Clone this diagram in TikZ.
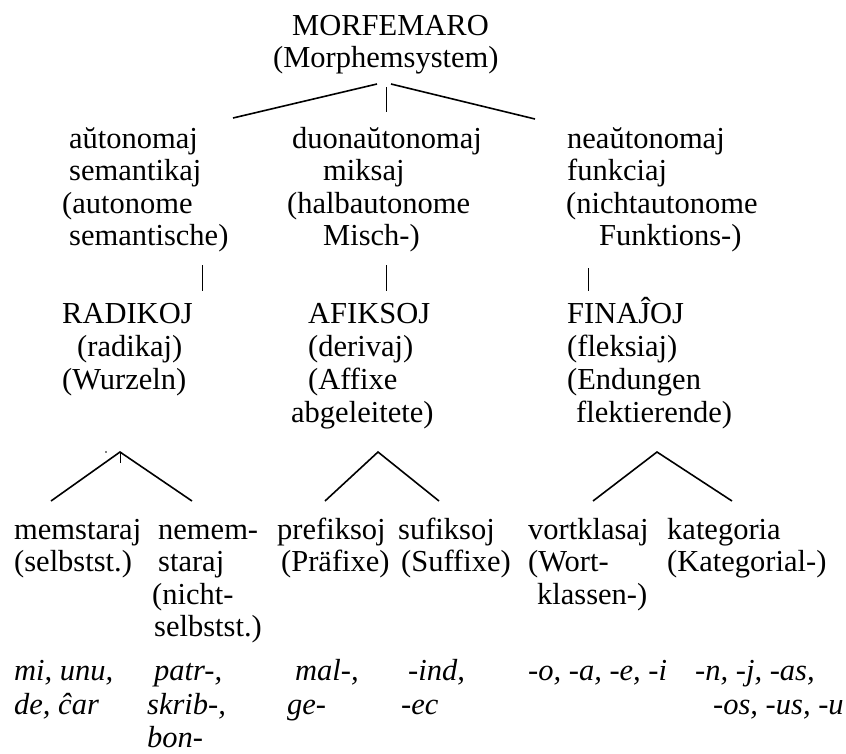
\documentclass[tikz,border=0pt]{standalone}
\usepackage{fontspec}
\setmainfont{Liberation Serif}
\begin{document}
\begin{tikzpicture}[x=1pt,y=-1pt]
\tikzset{
  lbl/.style={anchor=base west, inner sep=0pt, font=\fontsize{30.5}{33}\selectfont},
  ex/.style={anchor=base west, inner sep=0pt, font=\fontsize{30.5}{33}\selectfont\itshape},
  branch/.style={line width=1.6pt},
  bar/.style={line width=0.8pt},
}
\useasboundingbox (0,0) rectangle (846,753);

% root
\node[lbl] (root)  at (292,35) {MORFEMARO};
\node[lbl] (rootg) at (273,67) {(Morphemsystem)};

% second level
\node[lbl] (aut1) at (69,148) {aŭtonomaj};
\node[lbl] (aut2) at (69,180) {semantikaj};
\node[lbl] (aut3) at (62,213) {(autonome};
\node[lbl] (aut4) at (69,245) {semantische)};

\node[lbl] (duo1) at (292,148) {duonaŭtonomaj};
\node[lbl] (duo2) at (323,180) {miksaj};
\node[lbl] (duo3) at (287,213) {(halbautonome};
\node[lbl] (duo4) at (323,245) {Misch-)};

\node[lbl] (nea1) at (567,148) {neaŭtonomaj};
\node[lbl] (nea2) at (567,180) {funkciaj};
\node[lbl] (nea3) at (566,213) {(nichtautonome};
\node[lbl] (nea4) at (599,245) {Funktions-)};

% third level
\node[lbl] (rad1) at (62,323) {RADIKOJ};
\node[lbl] (rad2) at (77,356) {(radikaj)};
\node[lbl] (rad3) at (62,389) {(Wurzeln)};

\node[lbl] (afi1) at (308,323) {AFIKSOJ};
\node[lbl] (afi2) at (308,356) {(derivaj)};
\node[lbl] (afi3) at (308,389) {(Affixe};
\node[lbl] (afi4) at (291,422) {abgeleitete)};

\node[lbl] (fin1) at (567,323) {FINAĴOJ};
\node[lbl] (fin2) at (567,356) {(fleksiaj)};
\node[lbl] (fin3) at (567,389) {(Endungen};
\node[lbl] (fin4) at (576,422) {flektierende)};

% fourth level
\node[lbl] (mem1) at (14,539) {memstaraj};
\node[lbl] (mem2) at (14,571) {(selbstst.)};

\node[lbl] (nem1) at (158,539) {nemem-};
\node[lbl] (nem2) at (158,571) {staraj};
\node[lbl] (nem3) at (152,604) {(nicht-};
\node[lbl] (nem4) at (154,636) {selbstst.)};

\node[lbl] (pre1) at (277,539) {prefiksoj};
\node[lbl] (pre2) at (281,571) {(Präfixe)};

\node[lbl] (suf1) at (398,539) {sufiksoj};
\node[lbl] (suf2) at (401,571) {(Suffixe)};

\node[lbl] (vor1) at (528,539) {vortklasaj};
\node[lbl] (vor2) at (528,571) {(Wort-};
\node[lbl] (vor3) at (537,604) {klassen-)};

\node[lbl] (kat1) at (667,539) {kategoria};
\node[lbl] (kat2) at (667,571) {(Kategorial-)};

% examples
\node[ex] (exmem1) at (14,680) {mi, unu,};
\node[ex] (exmem2) at (14,714) {de, ĉar};
\node[ex] (exnem1) at (154,680) {patr-,};
\node[ex] (exnem2) at (147,714) {skrib-,};
\node[ex] (exnem3) at (147,747) {bon-};
\node[ex] (expre1) at (295,680) {mal-,};
\node[ex] (expre2) at (287,714) {ge-};
\node[ex] (exsuf1) at (408,680) {-ind,};
\node[ex] (exsuf2) at (401,714) {-ec};
\node[ex] (exvor1) at (528,680) {-o, -a, -e, -i};
\node[ex] (exkat1) at (695,680) {-n, -j, -as,};
\node[ex] (exkat2) at (713,714) {-os, -us, -u};

% branch points
\coordinate (rootL) at (377,84);
\coordinate (rootM) at (386,87);
\coordinate (rootR) at (391,84);
\coordinate (autTop) at (233,118);
\coordinate (duoTop) at (386,112);
\coordinate (neaTop) at (535,119);

\coordinate (autBar) at (202,265);
\coordinate (radBar) at (202,291);
\coordinate (duoBar) at (386,265);
\coordinate (afiBar) at (386,291);
\coordinate (neaBar) at (588,268);
\coordinate (finBar) at (588,291);

\coordinate (radApex) at (120,452);
\coordinate (radTick) at (120,463);
\coordinate (memFoot) at (51,501);
\coordinate (nemFoot) at (192,501);
\coordinate (afiApex) at (378,452);
\coordinate (preFoot) at (325,501);
\coordinate (sufFoot) at (439,501);
\coordinate (finApex) at (657,452);
\coordinate (vorFoot) at (593,501);
\coordinate (katFoot) at (732,501);

% connectors
\draw[branch] (rootL) -- (autTop);
\draw[bar] (rootM) -- (duoTop);
\draw[branch] (rootR) -- (neaTop);

\draw[bar] (autBar) -- (radBar);
\draw[bar] (duoBar) -- (afiBar);
\draw[bar] (neaBar) -- (finBar);

\draw[branch] (memFoot) -- (radApex) -- (nemFoot);
\draw[bar] (radApex) -- (radTick);
\fill (106,452) circle (0.9);
\draw[branch] (preFoot) -- (afiApex) -- (sufFoot);
\draw[branch] (vorFoot) -- (finApex) -- (katFoot);
\end{tikzpicture}
\end{document}
